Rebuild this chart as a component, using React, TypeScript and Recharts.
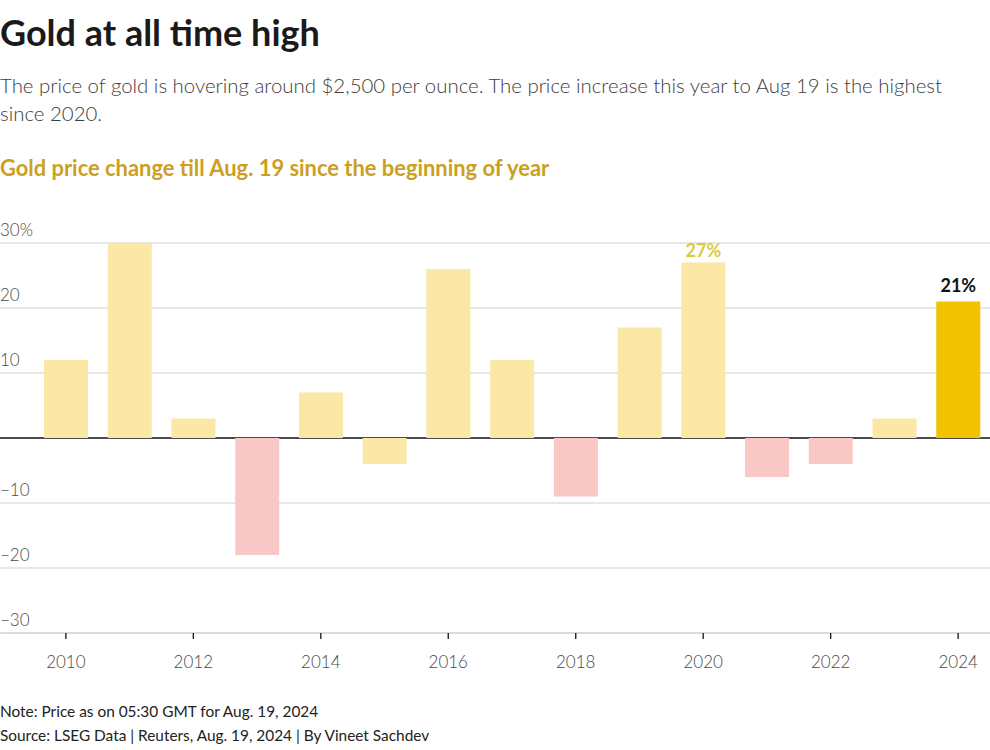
import { Bar, BarChart, CartesianGrid, Cell, LabelList, XAxis, YAxis } from 'recharts';

const years = [2010, 2011, 2012, 2013, 2014, 2015, 2016, 2017, 2018, 2019, 2020, 2021, 2022, 2023, 2024];
const changes = [12, 30, 3, -18, 7, -4, 26, 12, -9, 17, 27, -6, -4, 3, 21];
const barLabels = ['', '', '', '', '', '', '', '', '', '', '27%', '', '', '', '21%'];
const yTicks = [-30, -20, -10, 0, 10, 20, 30];
const yTickLabels = ['\u221230', '\u221220', '\u221210', '', '10', '20', '30%'];

const data = years.map((year, i) => ({ year, change: changes[i], label: barLabels[i] }));

const FONT = 'Lato, "Noto Sans", sans-serif';

function barColor(year: number, value: number): string {
  if (year === 2024) return '#f2c100';
  // the original leaves 2015 in the light gold shade
  if (value < 0 && year !== 2015) return '#f7c8c6';
  return '#fbe7a6';
}

function renderYTick(props: any) {
  const { y, payload } = props;
  const idx = yTicks.indexOf(payload.value);
  return (
    <text key={`yt-${payload.value}`} x={0} y={y - 7} fill="#4a4a4a" fontSize={17} fontWeight={300} fontFamily={FONT}>
      {yTickLabels[idx]}
    </text>
  );
}

function GridLine(props: any) {
  const zero = props.index === 3;
  return (
    <line
      key={props.key}
      x1={0}
      x2={990}
      y1={props.y1}
      y2={props.y2}
      stroke={zero ? '#111' : '#cfcfcf'}
      strokeWidth={zero ? 1.6 : 1.2}
    />
  );
}

function BarLabel({ x, y, width, value, index }: any) {
  if (!value) return null;
  const highlight = years[index] === 2024;
  return (
    <text
      x={x + width / 2}
      y={highlight ? y - 10 : y - 6}
      textAnchor="middle"
      fill={highlight ? '#111' : '#d9cc3c'}
      fontSize={18}
      fontWeight={700}
      fontFamily={FONT}
    >
      {value}
    </text>
  );
}

export default function App() {
  return (
    <div style={{ position: 'absolute', left: 0, top: 0, width: 990, height: 750, background: '#fff', fontFamily: FONT, overflow: 'hidden' }}>
      <div style={{ position: 'absolute', left: 0, top: 10, fontSize: 36, fontWeight: 700, color: '#1a1a1a', whiteSpace: 'nowrap' }}>
        Gold at all time high
      </div>
      <div style={{ position: 'absolute', left: 0, top: 71, fontSize: 20.4, fontWeight: 300, color: '#404040', lineHeight: '28px', whiteSpace: 'nowrap' }}>
        The price of gold is hovering around $2,500 per ounce. The price increase this year to Aug 19 is the highest
        <br />
        since 2020.
      </div>
      <div style={{ position: 'absolute', left: 0, top: 154, fontSize: 21.9, fontWeight: 700, color: '#cc9f22', whiteSpace: 'nowrap' }}>
        Gold price change till Aug. 19 since the beginning of year
      </div>

      <div style={{ position: 'absolute', left: 0, top: 200 }}>
        <BarChart width={990} height={480} data={data} margin={{ top: 43, right: 0, left: 0, bottom: 7 }}>
          <CartesianGrid vertical={false} horizontal={GridLine} />
          <XAxis
            dataKey="year"
            interval={1}
            padding={{ left: 33, right: 0 }}
            height={40}
            tickSize={6}
            tickMargin={17}
            axisLine={{ stroke: '#cfcfcf', strokeWidth: 1.2 }}
            tickLine={{ stroke: '#222', strokeWidth: 1.4 }}
            tick={{ fill: '#4a4a4a', fontSize: 17, fontWeight: 300, fontFamily: FONT }}
          />
          <YAxis
            width={1}
            domain={[-30, 30]}
            ticks={yTicks}
            axisLine={false}
            tickLine={false}
            tick={renderYTick}
          />
          <Bar dataKey="change" barSize={44} isAnimationActive={false}>
            {data.map((d) => (
              <Cell key={d.year} fill={barColor(d.year, d.change)} />
            ))}
            <LabelList dataKey="label" content={<BarLabel />} />
          </Bar>
        </BarChart>
      </div>

      <div style={{ position: 'absolute', left: 0, top: 699, fontSize: 15.4, color: '#222', lineHeight: '24px', whiteSpace: 'nowrap' }}>
        Note: Price as on 05:30 GMT for Aug. 19, 2024
        <br />
        Source: LSEG Data | Reuters, Aug. 19, 2024 | By Vineet Sachdev
      </div>
    </div>
  );
}
